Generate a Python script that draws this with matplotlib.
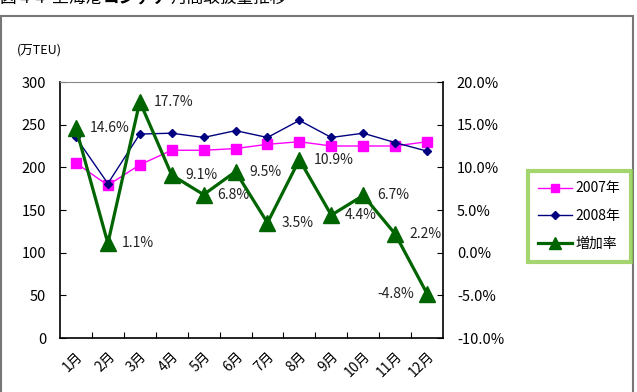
import numpy as np
import matplotlib
matplotlib.use('Agg')
import matplotlib.pyplot as plt
from matplotlib.patches import Rectangle
from matplotlib.ticker import FuncFormatter, MultipleLocator

plt.rcParams['font.family'] = ['Noto Sans CJK JP', 'DejaVu Sans']

months = ['1月', '2月', '3月', '4月', '5月', '6月', '7月', '8月', '9月', '10月', '11月', '12月']
vol_2007 = [205, 179, 203, 220, 220, 222, 227, 230, 225, 225, 225, 230]
vol_2008 = [235, 181, 239, 240, 235, 243, 235, 255, 235, 240, 229, 219]
growth = [14.6, 1.1, 17.7, 9.1, 6.8, 9.5, 3.5, 10.9, 4.4, 6.7, 2.2, -4.8]

W, H = 637, 392
fig = plt.figure(figsize=(W / 100, H / 100), dpi=100)

# plot area in pixels
px_l, px_r, px_t, px_b = 60, 443, 82, 338
ax = fig.add_axes([px_l / W, 1 - px_b / H, (px_r - px_l) / W, (px_b - px_t) / H])
ax2 = ax.twinx()

x = np.arange(len(months))

l1, = ax.plot(x, vol_2007, color='#FF00FF', lw=1, marker='s', ms=7, label='2007年', zorder=3)
l2, = ax.plot(x, vol_2008, color='#000080', lw=1, marker='D', ms=4.5, label='2008年', zorder=3)
l3, = ax2.plot(x, growth, color='#006400', lw=2.3, marker='^', ms=11, label='増加率', zorder=4)

ax.set_xlim(-0.5, len(months) - 0.5)
ax.set_ylim(0, 300)
ax.yaxis.set_major_locator(MultipleLocator(50))
ax2.set_ylim(-10, 20)
ax2.yaxis.set_major_locator(MultipleLocator(5))
ax2.yaxis.set_major_formatter(FuncFormatter(lambda v, p: f'{v:.1f}%'.replace('\u2212', '-')))

ax.set_xticks(x)
ax.set_xticklabels(months, rotation=45, ha='right', rotation_mode='anchor', fontsize=10)
ax.set_xticks(np.arange(0.5, len(months) - 1, 1), minor=True)
ax.tick_params(axis='x', which='major', length=0, pad=8)
ax.tick_params(axis='x', which='minor', length=4, direction='in', width=0.8)
ax.tick_params(axis='y', length=4, direction='in', labelsize=10.5, pad=10)
ax2.tick_params(axis='y', length=4, direction='in', labelsize=10.5, pad=10)

for s in ['left', 'bottom']:
    ax.spines[s].set_color('black')
    ax.spines[s].set_linewidth(1.2)
ax.spines['top'].set_color('#888888')
ax.spines['top'].set_linewidth(0.8)
ax.spines['right'].set_visible(False)
ax2.spines['top'].set_visible(False)
ax2.spines['left'].set_visible(False)
ax2.spines['bottom'].set_visible(False)
ax2.spines['right'].set_color('black')
ax2.spines['right'].set_linewidth(1.2)

# data labels
for xi, g in zip(x, growth):
    if g < 0:
        ax2.annotate(f'{g:.1f}%', (xi, g), xytext=(-9, 0), textcoords='offset points',
                     ha='right', va='center', fontsize=10, color='#222222')
    else:
        ax2.annotate(f'{g:.1f}%', (xi, g), xytext=(10, 0), textcoords='offset points',
                     ha='left', va='center', fontsize=10, color='#222222')

# legend
leg = fig.legend(handles=[l1, l2, l3], loc='upper left',
                 bbox_to_anchor=(521 / W, 1 - 164 / H), fontsize=10,
                 frameon=True, fancybox=False, handlelength=2.4, labelspacing=1.0,
                 borderpad=0.75, handletextpad=0.3, markerscale=0.8)
leg.get_frame().set_edgecolor('#8DCB4A')
leg.get_frame().set_linewidth(3)

# outer frame
fig.patches.append(Rectangle((1.5 / W, -0.05), 631.5 / W, 1.05 - 16 / H,
                             transform=fig.transFigure, fill=False,
                             edgecolor='#777777', lw=1.5, clip_on=False))

fig.text(17 / W, 1 - 50 / H, '(万TEU)', fontsize=9, va='center', ha='left')

# title (cut off at top in the original), laid out piece by piece
renderer = fig.canvas.get_renderer()
xpos = 0
for part, wt in [('図 4-4  上海港', 'normal'), ('コンテナ', 'bold'), ('月間取扱量推移', 'normal')]:
    t = fig.text(xpos / W, 1 - 7 / H, part, fontsize=12, va='bottom', ha='left', weight=wt)
    xpos += t.get_window_extent(renderer).width + 1

fig.savefig('out.png', dpi=100)
